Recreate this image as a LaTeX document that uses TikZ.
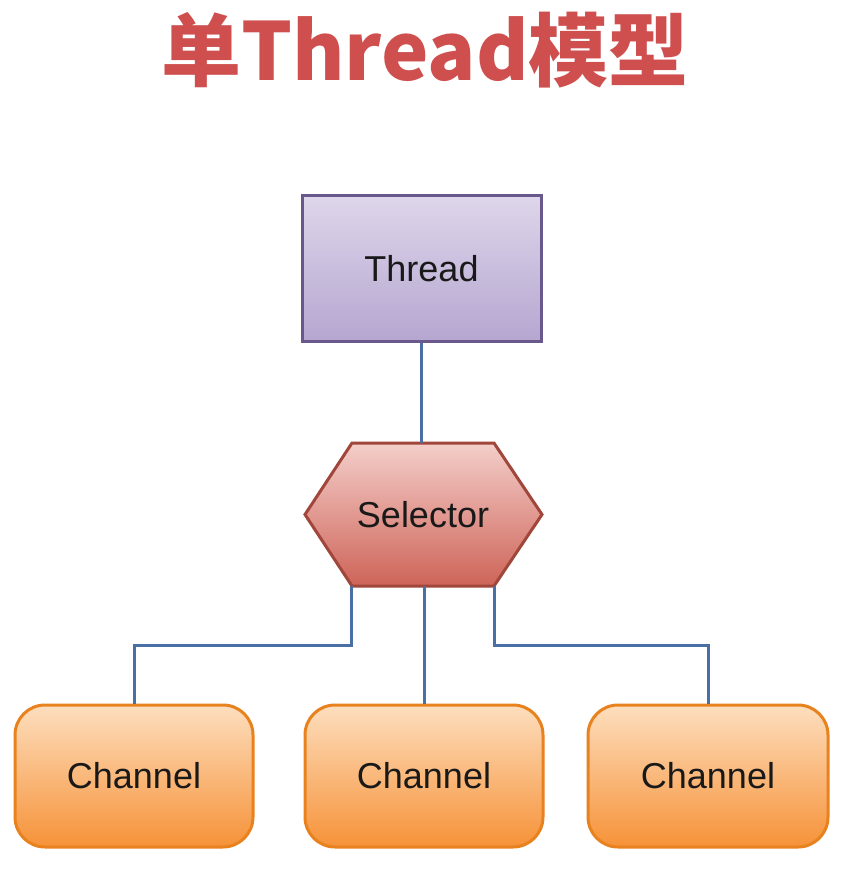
\documentclass[tikz,border=0pt]{standalone}
\usepackage{fontspec}
\setmainfont{Liberation Sans}
\newfontfamily\cjk{Noto Sans CJK SC}
\definecolor{titlered}{RGB}{207,78,78}
\definecolor{linkblue}{RGB}{74,111,165}
\definecolor{thrtop}{RGB}{222,214,234}
\definecolor{thrbot}{RGB}{181,166,208}
\definecolor{thrdraw}{RGB}{104,88,140}
\definecolor{seltop}{RGB}{244,206,202}
\definecolor{selbot}{RGB}{206,100,88}
\definecolor{seldraw}{RGB}{160,70,58}
\definecolor{chtop}{RGB}{253,222,190}
\definecolor{chbot}{RGB}{246,146,56}
\definecolor{chdraw}{RGB}{232,130,30}
\definecolor{labeltext}{RGB}{25,25,25}
\tikzset{
  labelfont/.style={font=\fontsize{36}{40}\selectfont, text=labeltext},
  threadbox/.style={draw=thrdraw, line width=3pt, top color=thrtop, bottom color=thrbot,
    minimum width=239pt, minimum height=145pt, labelfont, inner sep=0pt},
  chanbox/.style={draw=chdraw, line width=3pt, top color=chtop, bottom color=chbot,
    rounded corners=30pt, minimum width=238pt, minimum height=142pt, labelfont, inner sep=0pt},
  selshape/.style={draw=seldraw, line width=3pt, top color=seltop, bottom color=selbot, line join=miter},
  seltext/.style={minimum width=142pt, minimum height=143pt, labelfont, inner sep=0pt},
  link/.style={draw=linkblue, line width=3pt},
}
\begin{document}
\begin{tikzpicture}[x=1pt,y=-1pt]
\useasboundingbox (0,0) rectangle (843,885);
\fill[white] (0,0) rectangle (843,885);
\node (title) at (425,50) {\cjk\bfseries\fontsize{80}{86}\selectfont\color{titlered}单Thread模型};
\node[threadbox] (thr) at (421.5,268.5) {Thread};
\coordinate (hl) at (305,514.5);
\coordinate (hr) at (542,514.5);
\path[selshape] (352,443) -- (494,443) -- (hr) -- (494,586) -- (352,586) -- (hl) -- cycle;
\node[seltext] (sel) at (423,514.5) {Selector};
\node[chanbox] (ch1) at (134,776) {Channel};
\node[chanbox] (ch2) at (424,776) {Channel};
\node[chanbox, minimum width=240pt] (ch3) at (708,776) {Channel};
\coordinate (bus) at (0,645);
\draw[link] (thr.south) -- (thr.south |- sel.north);
\draw[link] (sel.south west) -- (sel.south west |- bus) -| (ch1.north);
\draw[link] (ch2.north |- sel.south) -- (ch2.north);
\draw[link] (sel.south east) -- (sel.south east |- bus) -| (ch3.north);
\end{tikzpicture}
\end{document}
